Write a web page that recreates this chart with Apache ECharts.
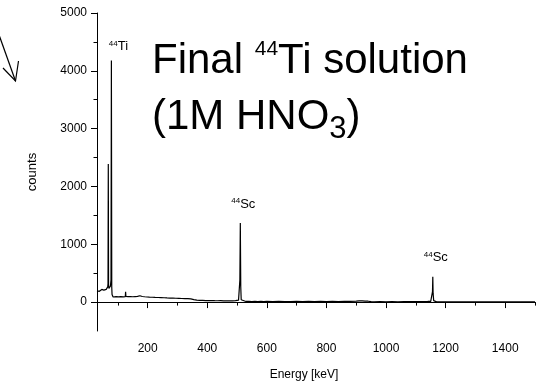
<!DOCTYPE html>
<html><head><meta charset="utf-8">
<script src="https://cdn.jsdelivr.net/npm/echarts@6/dist/echarts.min.js"></script>
<style>html,body{margin:0;padding:0;background:#fff}#c{width:543px;height:386px}</style>
</head><body><div id="c"></div>
<script>
// Energy (keV) and counts
const energy = [30,31,32,33,34,35,36,37,38,39,40,41,42,43,44,45,46,47,48,49,50,51,52,53,54,55,56,57,58,59,60,61,62,63,64,65,66,
 67,67.9,68.8,70,71,72,73,74,75,76,77,78.3,79.5,80.5,82,84,
 86,90,94,98,102,106,110,114,118,122,125,126,127,130,134,138,142,146,150,154,158,162,166,170,174,178,182,186,190,194,198,202,206,210,
 215,220,225,230,235,240,245,250,255,260,265,270,275,280,285,290,295,300,305,310,315,320,325,330,335,340,345,350,355,360,365,370,375,380,
 385,390,395,400,405,410,415,420,425,430,435,440,445,450,455,460,465,470,475,480,485,490,495,500,505,508,509.5,511,512.5,514,517,520,
 530,540,550,560,570,580,590,600,620,640,660,680,700,720,740,760,780,800,820,840,860,880,900,910,920,930,940,950,960,980,1000,1020,1040,
 1060,1080,1100,1120,1140,1150,1154,1156,1157,1158,1160,1163,1170,1190,1210,1240,1270,1300,1330,1360,1390,1420,1450,1480,1500];
const counts = [195,188,205,199,182,210,193,201,186,214,197,190,208,184,203,196,219,188,205,192,211,199,186,207,194,216,201,189,212,198,206,221,203,228,214,246,262,
 320,2390,300,235,250,228,262,240,275,290,380,4180,260,130,98,88,
 92,85,96,82,90,86,94,80,91,87,95,178,98,84,93,88,97,85,92,89,96,91,99,104,110,102,97,101,92,95,88,93,86,90,
 84,88,81,86,79,83,77,82,75,80,72,77,70,74,68,73,66,71,64,69,62,67,60,66,61,64,56,52,44,36,33,38,30,34,
 29,33,27,31,25,30,26,29,24,28,23,27,24,28,22,26,23,27,21,25,22,26,24,28,34,60,380,1368,260,40,18,14,
 11,13,9,12,10,13,8,11,9,12,8,10,13,9,11,8,12,10,13,9,12,14,17,20,22,18,15,8,6,9,5,8,6,
 9,7,10,8,11,14,40,180,440,150,25,8,4,5,3,4,3,4,3,4,3,4,3,4,3];
const xLabels = [200,400,600,800,1000,1200,1400];
const xMinor = [100,300,500,700,900,1100,1300,1500];
const yLabels = [0,1000,2000,3000,4000,5000];
const yMinor = [500,1500,2500,3500,4500];
const peaks = [
  {name:'Ti', e:78.3, c:4180},
  {name:'Sc', e:511, c:1368},
  {name:'Sc', e:1157, c:440}
];
const peakOffsets = [[7,-14],[3,-19],[3,-19]];

const FONT = '"Liberation Sans", Arial, sans-serif';
const data = energy.map((e,i)=>[e,counts[i]]);
const chart = echarts.init(document.getElementById('c'), null, {renderer:'canvas'});
const lbl = {color:'#000', fontFamily:FONT, fontSize:12, formatter:v=>String(v)};
chart.setOption({
  animation:false,
  backgroundColor:'#fff',
  grid:{left:97,right:8,top:13,bottom:50},
  xAxis:[{
    type:'value', min:30, max:1500, position:'bottom',
    name:'Energy [keV]', nameLocation:'middle', nameGap:38,
    nameTextStyle:{color:'#000', fontFamily:FONT, fontSize:12, padding:[0,24,0,0]},
    axisLine:{lineStyle:{color:'#000',width:1}},
    axisTick:{customValues:xLabels, length:6, lineStyle:{color:'#000'}},
    axisLabel:{customValues:xLabels, margin:12, ...lbl},
    splitLine:{show:false}
  },{
    type:'value', min:30, max:1500, position:'bottom',
    axisLine:{show:false},
    axisTick:{customValues:xMinor, length:3.5, lineStyle:{color:'#000'}},
    axisLabel:{show:false}, splitLine:{show:false}
  }],
  yAxis:[{
    type:'value', min:-500, max:5000, position:'left',
    name:'counts', nameLocation:'middle', nameGap:58, nameRotate:90,
    nameTextStyle:{color:'#000', fontFamily:FONT, fontSize:13},
    axisLine:{show:true, lineStyle:{color:'#000',width:1}},
    axisTick:{show:true, customValues:yLabels, length:6, lineStyle:{color:'#000'}},
    axisLabel:{customValues:yLabels, margin:10, ...lbl},
    splitLine:{show:false}
  },{
    type:'value', min:-500, max:5000, position:'left',
    axisLine:{show:false},
    axisTick:{show:true, customValues:yMinor, length:3.5, lineStyle:{color:'#000'}},
    axisLabel:{show:false}, splitLine:{show:false}
  }],
  series:[{
    type:'line', data:data, xAxisIndex:0, yAxisIndex:0,
    showSymbol:false, symbol:'none',
    lineStyle:{color:'#000', width:1.2},
    markPoint:{
      symbol:'circle', symbolSize:0, silent:true,
      data: peaks.map((p,i)=>({coord:[p.e,p.c], name:p.name,
        label:{show:true, position:'inside', offset:peakOffsets[i],
          formatter:'{s|44}{n|'+p.name+'}',
          rich:{s:{fontSize:8, fontFamily:FONT, color:'#000', verticalAlign:'top', lineHeight:10, padding:[0,0,4,0]},
                n:{fontSize:13, fontFamily:FONT, color:'#000', lineHeight:14}}}}))
    }
  }],
  graphic:[
    {type:'text', left:152, top:33, style:{
      text:'{m|Final }{p|44}{m|Ti solution}\n{m|(1M HNO}{b|3}{m|)}',
      fontFamily:FONT, fill:'#000',
      rich:{
        m:{fontSize:42, fontFamily:FONT, lineHeight:56, fill:'#000'},
        p:{fontSize:21, fontFamily:FONT, lineHeight:24, verticalAlign:'top', padding:[6,0,0,0], fill:'#000'},
        b:{fontSize:31, fontFamily:FONT, lineHeight:56, verticalAlign:'bottom', padding:[16,0,0,0], fill:'#000'}
      }}},
    {type:'polyline', shape:{points:[[-2,32],[15.5,81]]}, style:{stroke:'#000', lineWidth:1.2, fill:null}},
    {type:'polyline', shape:{points:[[18.5,61],[15.5,81],[3,68]]}, style:{stroke:'#000', lineWidth:1.2, fill:null}}
  ]
});
</script></body></html>
